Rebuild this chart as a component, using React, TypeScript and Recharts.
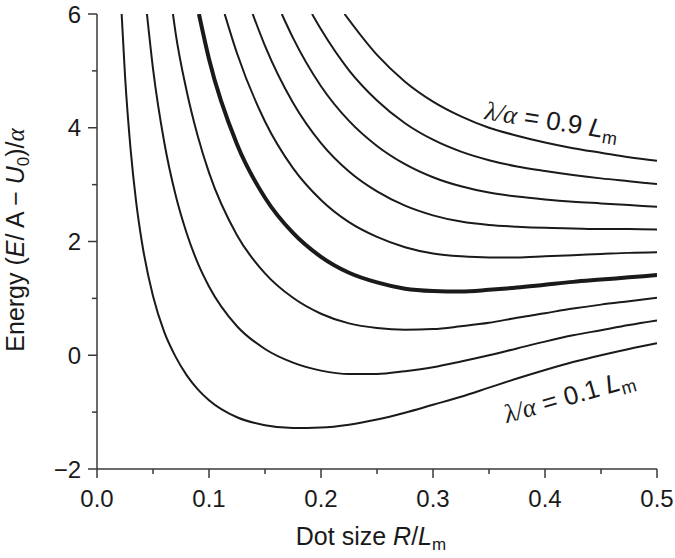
import { LineChart, Line, XAxis, YAxis } from "recharts"

const FONT = '"Liberation Sans", Arial, sans-serif'
const SERIF = '"Liberation Serif", "DejaVu Serif", serif'
const AXIS = "#3a3a3a"
const INK = "#1a1a1a"

const X_TICKS = [0, 0.05, 0.1, 0.15, 0.2, 0.25, 0.3, 0.35, 0.4, 0.45, 0.5]
const Y_TICKS = [-2, -1, 0, 1, 2, 3, 4, 5, 6]

// [R/Lm, (E/A - U0)/α], one curve per λ/α (0.1 … 0.9 Lm)
const CURVE_01 = [
  [0.022, 6.0], [0.025, 4.92], [0.03, 3.62], [0.035, 2.69], [0.04, 2.0], [0.05, 1.04],
  [0.06, 0.41], [0.07, -0.02], [0.08, -0.35], [0.09, -0.6], [0.1, -0.79], [0.125, -1.09],
  [0.15, -1.23], [0.175, -1.28], [0.2, -1.27], [0.225, -1.22], [0.25, -1.13], [0.275, -1.01],
  [0.3, -0.87], [0.325, -0.73], [0.35, -0.57], [0.375, -0.41], [0.4, -0.26], [0.425, -0.12],
  [0.45, 0.0], [0.475, 0.11], [0.5, 0.21],
]
const CURVE_02 = [
  [0.0446, 6.0], [0.05, 5.04], [0.06, 3.75], [0.07, 2.83], [0.08, 2.15], [0.09, 1.62],
  [0.1, 1.21], [0.125, 0.51], [0.15, 0.11], [0.175, -0.13], [0.2, -0.27], [0.225, -0.33],
  [0.25, -0.33], [0.275, -0.28], [0.3, -0.21], [0.325, -0.11], [0.35, 0.0], [0.375, 0.12],
  [0.4, 0.24], [0.425, 0.35], [0.45, 0.44], [0.475, 0.53], [0.5, 0.61],
]
const CURVE_03 = [
  [0.0678, 6.0], [0.07, 5.69], [0.08, 4.65], [0.09, 3.85], [0.1, 3.21], [0.125, 2.11],
  [0.15, 1.44], [0.175, 1.01], [0.2, 0.73], [0.225, 0.56], [0.25, 0.48], [0.275, 0.45],
  [0.3, 0.46], [0.325, 0.51], [0.35, 0.57], [0.375, 0.66], [0.4, 0.74], [0.425, 0.82],
  [0.45, 0.89], [0.475, 0.95], [0.5, 1.01],
]
const CURVE_04 = [
  [0.091, 6.0], [0.1, 5.21], [0.125, 3.71], [0.15, 2.77], [0.175, 2.15], [0.2, 1.73],
  [0.225, 1.45], [0.25, 1.28], [0.275, 1.17], [0.3, 1.13], [0.325, 1.12], [0.35, 1.15],
  [0.375, 1.19], [0.4, 1.24], [0.425, 1.29], [0.45, 1.33], [0.475, 1.37], [0.5, 1.41],
]
const CURVE_05 = [
  [0.114, 6.0], [0.125, 5.31], [0.15, 4.11], [0.175, 3.29], [0.2, 2.73], [0.225, 2.34],
  [0.25, 2.08], [0.275, 1.9], [0.3, 1.79], [0.325, 1.74], [0.35, 1.72], [0.375, 1.72],
  [0.4, 1.74], [0.425, 1.76], [0.45, 1.78], [0.475, 1.8], [0.5, 1.81],
]
const CURVE_06 = [
  [0.139, 6.0], [0.15, 5.44], [0.175, 4.44], [0.2, 3.73], [0.225, 3.23], [0.25, 2.88],
  [0.275, 2.63], [0.3, 2.46], [0.325, 2.35], [0.35, 2.29], [0.375, 2.26], [0.4, 2.24],
  [0.425, 2.23], [0.45, 2.22], [0.475, 2.22], [0.5, 2.21],
]
const CURVE_07 = [
  [0.165, 6.0], [0.175, 5.58], [0.2, 4.73], [0.225, 4.12], [0.25, 3.68], [0.275, 3.36],
  [0.3, 3.13], [0.325, 2.97], [0.35, 2.86], [0.375, 2.79], [0.4, 2.74], [0.425, 2.7],
  [0.45, 2.67], [0.475, 2.64], [0.5, 2.61],
]
const CURVE_08 = [
  [0.192, 6.0], [0.2, 5.73], [0.225, 5.01], [0.25, 4.48], [0.275, 4.08], [0.3, 3.79],
  [0.325, 3.58], [0.35, 3.43], [0.375, 3.32], [0.4, 3.24], [0.425, 3.17], [0.45, 3.11],
  [0.475, 3.06], [0.5, 3.01],
]
const CURVE_09 = [
  [0.221, 6.0], [0.25, 5.28], [0.275, 4.81], [0.3, 4.46], [0.325, 4.2], [0.35, 4.0],
  [0.375, 3.86], [0.4, 3.74], [0.425, 3.64], [0.45, 3.56], [0.475, 3.48], [0.5, 3.42],
]

const CURVES = [CURVE_01, CURVE_02, CURVE_03, CURVE_04, CURVE_05, CURVE_06, CURVE_07, CURVE_08, CURVE_09]
// the λ/α = 0.4 curve is drawn heavier in the original
const THICK_INDEX = 3

function XTick({ x, y, payload }: any) {
  const v = payload.value as number
  const major = Math.round(v * 100) % 10 === 0
  return (
    <g>
      <line x1={x} x2={x} y1={y} y2={y + (major ? 9 : 5)} stroke={AXIS} strokeWidth={1.5} />
      {major && (
        <text x={x} y={y + 38} textAnchor="middle" fontSize={24} fill={INK} fontFamily={FONT}>
          {v.toFixed(1)}
        </text>
      )}
    </g>
  )
}

function YTick({ x, y, payload }: any) {
  const v = payload.value as number
  const major = v % 2 === 0
  return (
    <g>
      <line x1={x - (major ? 9 : 5)} x2={x} y1={y} y2={y} stroke={AXIS} strokeWidth={1.5} />
      {major && (
        <text x={x - 16} y={y} dy="0.36em" textAnchor="end" fontSize={24} fill={INK} fontFamily={FONT}>
          {v < 0 ? `\u2212${-v}` : String(v)}
        </text>
      )}
    </g>
  )
}

export default function App() {
  return (
    <div style={{ position: "relative", width: 675, height: 558, fontFamily: FONT }}>
      <style>{`body{margin:0}`}</style>
      <LineChart width={675} height={558} margin={{ top: 14, right: 18, bottom: 0, left: 0 }}>
        <XAxis
          type="number"
          dataKey="x"
          domain={[0, 0.5]}
          ticks={X_TICKS}
          interval={0}
          height={89}
          tick={<XTick />}
          tickLine={false}
          tickSize={0}
          tickMargin={0}
          axisLine={{ stroke: AXIS, strokeWidth: 1.5 }}
          allowDataOverflow
        />
        <YAxis
          type="number"
          domain={[-2, 6]}
          ticks={Y_TICKS}
          interval={0}
          width={97}
          tick={<YTick />}
          tickLine={false}
          tickSize={0}
          tickMargin={0}
          axisLine={{ stroke: AXIS, strokeWidth: 1.5 }}
          allowDataOverflow
        />
        {CURVES.map((pts, i) => (
          <Line
            key={`curve-${i}`}
            data={pts.map(([x, y]) => ({ x, y }))}
            dataKey="y"
            type="monotone"
            stroke={INK}
            strokeWidth={i === THICK_INDEX ? 4 : 2}
            dot={false}
            activeDot={false}
            isAnimationActive={false}
          />
        ))}
      </LineChart>

      <svg
        width={675}
        height={558}
        style={{ position: "absolute", left: 0, top: 0, pointerEvents: "none" }}
        fontFamily={FONT}
        fill={INK}
      >
        <text transform="translate(24,240) rotate(-90)" textAnchor="middle" fontSize={25}>
          Energy (<tspan fontStyle="italic">E</tspan>/ A − <tspan fontStyle="italic">U</tspan>
          <tspan fontSize={17} dy={5}>0</tspan>
          <tspan dy={-5}>)/</tspan>
          <tspan fontFamily={SERIF} fontStyle="italic">α</tspan>
        </text>

        <text x={371} y={545} textAnchor="middle" fontSize={25}>
          Dot size <tspan fontStyle="italic">R</tspan>/<tspan fontStyle="italic">L</tspan>
          <tspan fontSize={17} dy={5}>m</tspan>
        </text>

        <text transform="translate(484,119) rotate(9)" fontSize={26}>
          <tspan fontFamily={SERIF} fontStyle="italic">λ/α</tspan> = 0.9 <tspan fontStyle="italic">L</tspan>
          <tspan fontSize={18} dy={5}>m</tspan>
        </text>

        <text transform="translate(507,423) rotate(-16)" fontSize={26}>
          <tspan fontFamily={SERIF} fontStyle="italic">λ/α</tspan> = 0.1 <tspan fontStyle="italic">L</tspan>
          <tspan fontSize={18} dy={5}>m</tspan>
        </text>
      </svg>
    </div>
  )
}
